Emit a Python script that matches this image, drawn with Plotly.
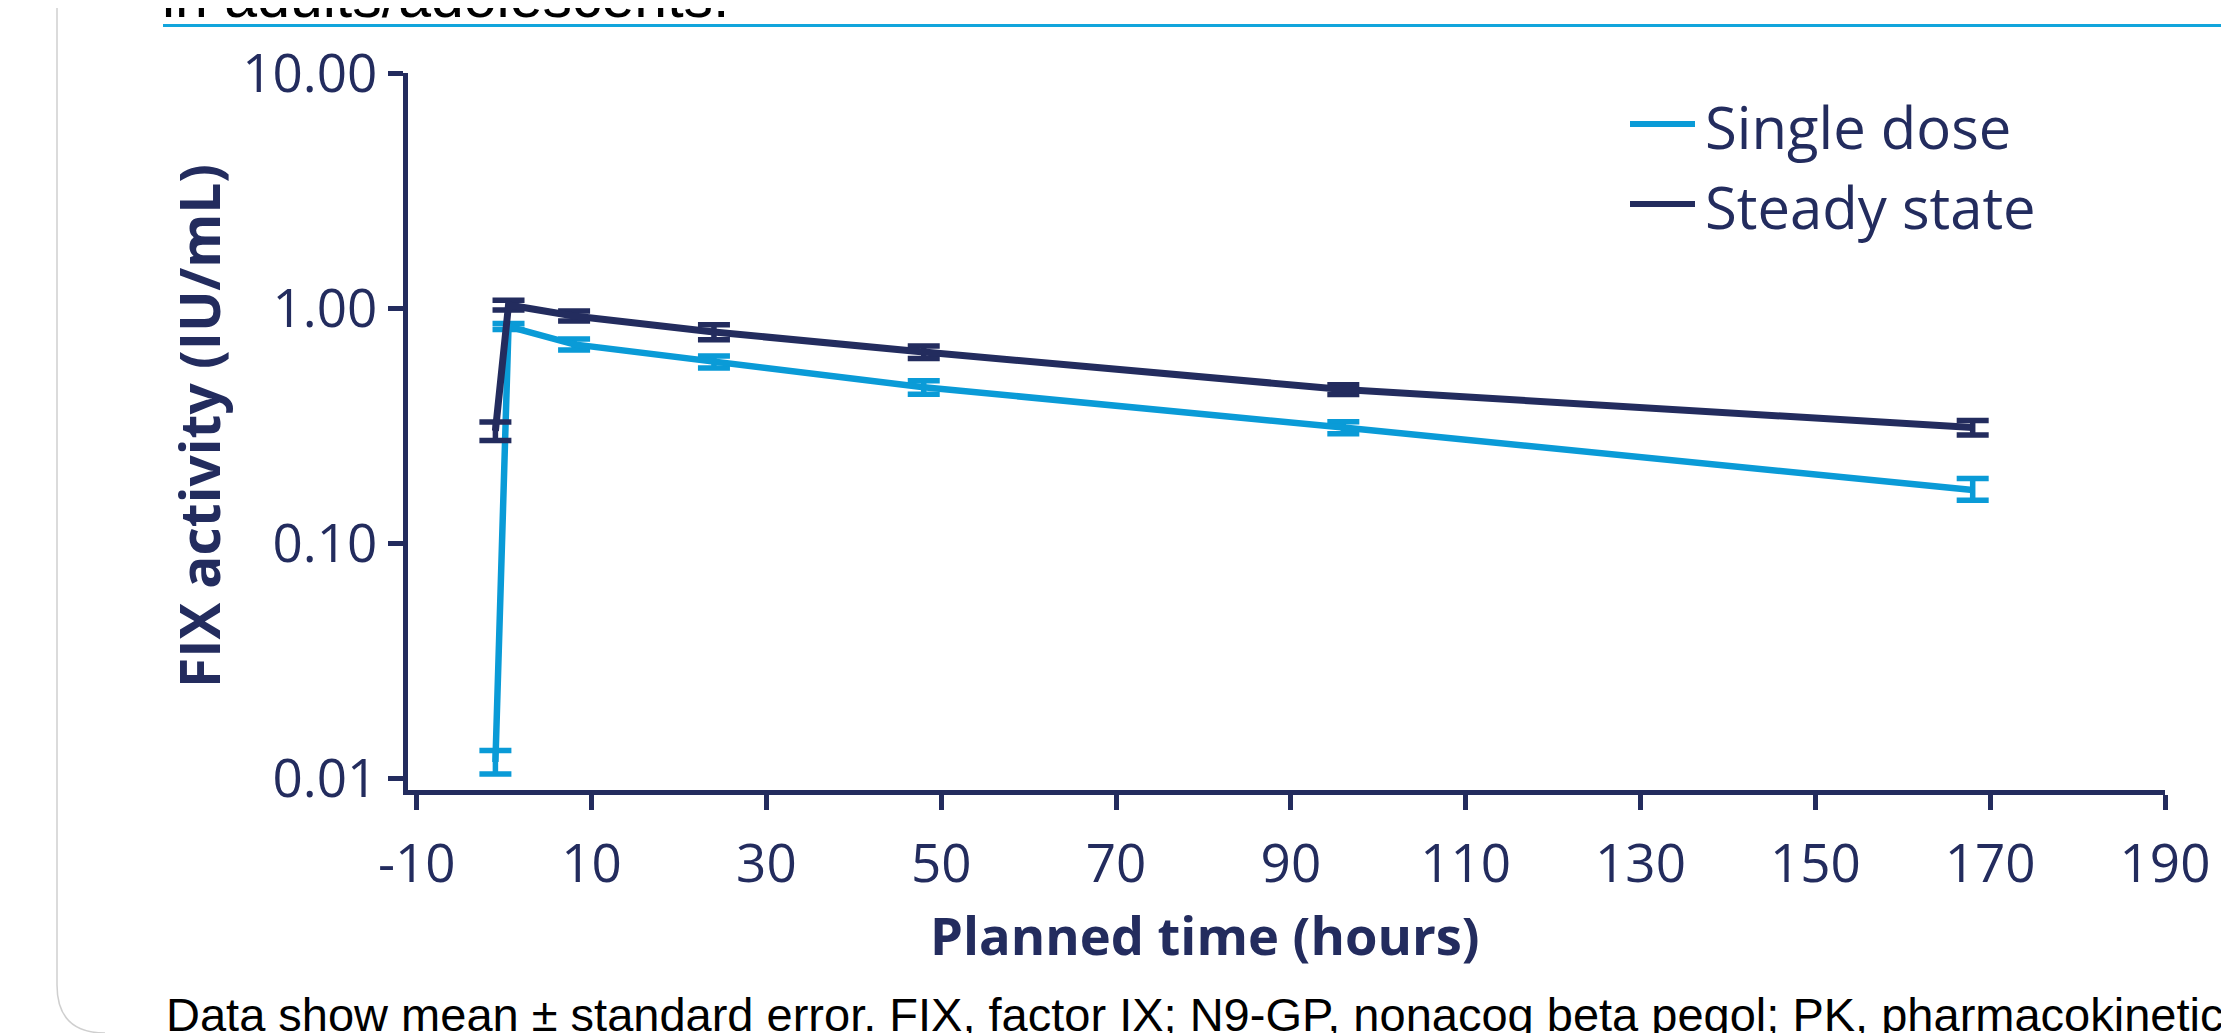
import plotly.graph_objects as go

# ---- data ----
time_h = [-1, 0.5, 8, 24, 48, 96, 168]

single_dose = [0.0117, 0.835, 0.70, 0.59, 0.46, 0.31, 0.168]
single_err_plus = [0.0014, 0.025, 0.038, 0.035, 0.030, 0.018, 0.020]
single_err_minus = [0.0013, 0.025, 0.038, 0.035, 0.030, 0.018, 0.016]

steady_state = [0.30, 1.03, 0.925, 0.79, 0.65, 0.45, 0.31]
steady_err_plus = [0.027, 0.050, 0.045, 0.058, 0.040, 0.022, 0.022]
steady_err_minus = [0.027, 0.050, 0.045, 0.058, 0.040, 0.022, 0.022]

x_tickvals = [-10, 10, 30, 50, 70, 90, 110, 130, 150, 170, 190]
x_ticktext = ["-10", "10", "30", "50", "70", "90", "110", "130", "150", "170", "190"]
y_tickvals = [0.01, 0.1, 1, 10]
y_ticktext = ["0.01", "0.10", "1.00", "10.00"]

series_names = ["Single dose", "Steady state"]

# ---- styles ----
LIGHT = "#0A9BD7"
NAVY = "#232C5E"
TICK_FONT = dict(family="Open Sans", size=53, color=NAVY)

# the page body adds an 8px margin; the figure is offset to compensate
OFF = 8
W, H = 2229 - OFF, 1033 - OFF
L, T = 408 - OFF, 73 - OFF
R = W - (2165 - OFF)
B = H - (790 - OFF)
PW, PH = W - L - R, H - T - B


def px_x(p):  # page pixel -> paper x
    return (p - OFF - L) / PW


def px_y(p):  # page pixel -> paper y
    return (H - B - (p - OFF)) / PH


fig = go.Figure()

fig.add_trace(go.Scatter(
    x=time_h, y=single_dose, mode="lines", name=series_names[0],
    line=dict(color=LIGHT, width=6.5),
    error_y=dict(type="data", symmetric=False, array=single_err_plus,
                 arrayminus=single_err_minus, color=LIGHT, thickness=5.5, width=16),
    showlegend=False,
))
fig.add_trace(go.Scatter(
    x=time_h, y=steady_state, mode="lines", name=series_names[1],
    line=dict(color=NAVY, width=7),
    error_y=dict(type="data", symmetric=False, array=steady_err_plus,
                 arrayminus=steady_err_minus, color=NAVY, thickness=5.5, width=16),
    showlegend=False,
))

axis_common = dict(
    showline=True, linewidth=5, linecolor=NAVY, mirror=False,
    ticks="outside", ticklen=15, tickwidth=5, tickcolor=NAVY,
    tickfont=TICK_FONT, showgrid=False, zeroline=False,
)

fig.update_layout(
    width=W, height=H,
    margin=dict(l=L, r=R, t=T, b=B),
    paper_bgcolor="white", plot_bgcolor="white",
    xaxis=dict(range=[-11, 190], tickvals=x_tickvals, ticktext=x_ticktext,
               ticklabelstandoff=8, **axis_common),
    yaxis=dict(type="log", range=[-2.051, 1.0], tickvals=y_tickvals,
               ticktext=y_ticktext, **axis_common),
    showlegend=False,
)

annotations = [
    dict(text="<b>FIX activity (IU/mL)</b>", textangle=-90,
         x=px_x(198), y=px_y(426), xref="paper", yref="paper",
         xanchor="center", yanchor="middle", showarrow=False,
         font=dict(family="Open Sans", size=55, color=NAVY)),
    dict(text="<b>Planned time (hours)</b>",
         x=px_x(1205), y=px_y(935), xref="paper", yref="paper",
         xanchor="center", yanchor="middle", showarrow=False,
         font=dict(family="Open Sans", size=52.5, color=NAVY)),
    dict(text="Data show mean ± standard error. FIX, factor IX; N9-GP, nonacog beta pegol; PK, pharmacokinetics",
         x=px_x(164), y=px_y(1014), xref="paper", yref="paper",
         xanchor="left", yanchor="middle", showarrow=False,
         font=dict(family="Liberation Sans", size=47, color="black")),
    dict(text="in adults/adolescents:",
         x=px_x(160), y=px_y(-3), xref="paper", yref="paper",
         xanchor="left", yanchor="middle", showarrow=False,
         font=dict(family="Liberation Sans", size=59, color="black")),
]

# legend drawn as line samples + labels
legend_rows = [(series_names[0], LIGHT, 124), (series_names[1], NAVY, 204)]
for name, color, ypix in legend_rows:
    fig.add_shape(type="line", xref="paper", yref="paper",
                  x0=px_x(1630), x1=px_x(1695), y0=px_y(ypix), y1=px_y(ypix),
                  line=dict(color=color, width=6))
    annotations.append(dict(text=name, x=px_x(1703), y=px_y(ypix + 2),
                            xref="paper", yref="paper", xanchor="left",
                            yanchor="middle", showarrow=False,
                            font=dict(family="Open Sans", size=58, color=NAVY)))

fig.update_layout(annotations=annotations)

# decorative header rule and frame edge
fig.add_shape(type="line", xref="paper", yref="paper",
              x0=px_x(163), x1=px_x(2240), y0=px_y(25.5), y1=px_y(25.5),
              line=dict(color="#12A5DC", width=3))
fig.add_shape(type="path", xref="paper", yref="paper",
              path=f"M {px_x(57)},{px_y(0)} L {px_x(57)},{px_y(985)} "
                   f"Q {px_x(57)},{px_y(1033)} {px_x(105)},{px_y(1033)}",
              line=dict(color="#CFCFCF", width=1.5))

fig.write_html("out.html")
